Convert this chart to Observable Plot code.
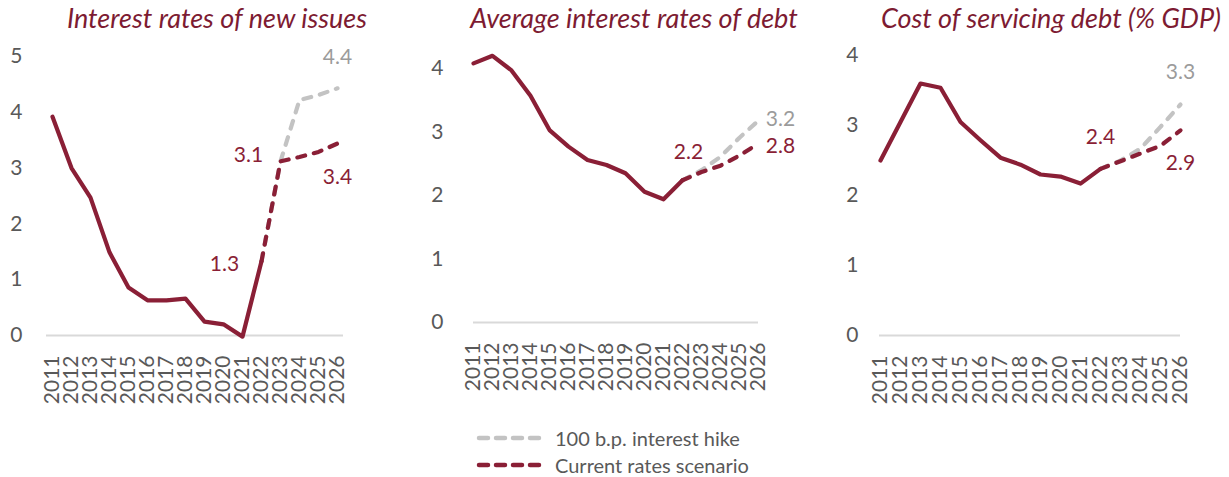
<!DOCTYPE html>
<html>
<head>
<meta charset="utf-8">
<script src="https://cdn.jsdelivr.net/npm/d3@7"></script>
<script src="https://cdn.jsdelivr.net/npm/@observablehq/plot@0.6"></script>
<style>
  body { margin: 0; background: #fff; }
  #wrap { position: relative; width: 1229px; height: 477px; overflow: hidden; font-family: Lato, "Open Sans", sans-serif; }
  .title { position: absolute; top: 1px; font-style: italic; font-size: 27px; color: #7D1B32; white-space: nowrap; transform: translateX(-50%); }
  .panel { position: absolute; top: 40px; }
  .leg { position: absolute; left: 476px; font-size: 20px; color: #595959; display: flex; align-items: center; white-space: nowrap; }
  .leg svg { margin-right: 7px; }
</style>
</head>
<body>
<div id="wrap"></div>
<script>
// ---- data ----
const years = [2011, 2012, 2013, 2014, 2015, 2016, 2017, 2018, 2019, 2020, 2021, 2022, 2023, 2024, 2025, 2026];
const histYears = [2011, 2012, 2013, 2014, 2015, 2016, 2017, 2018, 2019, 2020, 2021, 2022];
const projYears = [2022, 2023, 2024, 2025, 2026];

const titles = ["Interest rates of new issues", "Average interest rates of debt", "Cost of servicing debt (% GDP)"];
const seriesNames = ["100 b.p. interest hike", "Current rates scenario"];

const newIssuesHist = [3.92, 3.0, 2.47, 1.49, 0.86, 0.63, 0.63, 0.66, 0.25, 0.2, -0.02, 1.33];
const newIssuesCurrent = [1.33, 3.12, 3.2, 3.29, 3.44];
const newIssuesHike = [1.33, 3.12, 4.22, 4.31, 4.43];

const avgRateHist = [4.08, 4.2, 3.97, 3.57, 3.03, 2.77, 2.56, 2.48, 2.35, 2.06, 1.94, 2.24];
const avgRateCurrent = [2.24, 2.37, 2.47, 2.63, 2.82];
const avgRateHike = [2.24, 2.4, 2.61, 2.91, 3.18];

const debtServiceHist = [2.5, 3.05, 3.6, 3.54, 3.05, 2.79, 2.54, 2.44, 2.3, 2.27, 2.17, 2.38];
const debtServiceCurrent = [2.38, 2.49, 2.6, 2.71, 2.93];
const debtServiceHike = [2.38, 2.5, 2.67, 2.98, 3.3];

const yTicks1 = [0, 1, 2, 3, 4, 5];
const yTicks2 = [0, 1, 2, 3, 4];
const yTicks3 = [0, 1, 2, 3, 4];

// ---- styles ----
const RED = "#8A1F36";
const GREY = "#C3C3C3";
const GREY_TXT = "#9B9B9B";
const AXIS = "#595959";

const wrap = document.getElementById("wrap");

function toRows(xs, vs) { return xs.map((x, i) => ({ year: x, value: vs[i] })); }

function panel(cfg) {
  const hist = toRows(histYears, cfg.hist);
  const cur = toRows(projYears, cfg.cur);
  const hike = toRows(projYears, cfg.hike);
  const labels = cfg.labels.map(l => {
    const src = l.s === "hike" ? hike : l.s === "cur" ? cur : hist;
    const r = src.find(d => d.year === l.year);
    return { year: r.year, value: r.value, text: r.value.toFixed(1), dx: l.dx, dy: l.dy, fill: l.s === "hike" ? GREY_TXT : RED };
  });
  const dash = { strokeWidth: 4.2, strokeDasharray: "8,9", strokeLinecap: "round", strokeLinejoin: "round" };
  const svg = Plot.plot({
    width: cfg.width,
    height: 400,
    marginLeft: cfg.ml,
    marginRight: cfg.mr,
    marginTop: cfg.mt,
    marginBottom: cfg.mb,
    style: { fontFamily: "Lato, sans-serif", fontSize: "20px", color: AXIS, background: "transparent", overflow: "visible" },
    x: { type: "point", domain: years, padding: 0, label: null },
    y: { domain: cfg.ydomain, label: null },
    marks: [
      Plot.ruleY([0], { stroke: "#D9D9D9", strokeWidth: 2 }),
      Plot.axisY({ ticks: cfg.yticks, tickSize: 0, tickPadding: cfg.tp, label: null, tickFormat: d => String(d), fontSize: 21 }),
      Plot.axisX({ ticks: years, tickSize: 0, tickPadding: 20, tickRotate: -90, label: null, tickFormat: d => String(d), fontSize: 21 }),
      Plot.line(hike, { x: "year", y: "value", stroke: GREY, ...dash }),
      Plot.line(cur, { x: "year", y: "value", stroke: RED, ...dash }),
      Plot.line(hist, { x: "year", y: "value", stroke: RED, strokeWidth: 4.2, strokeLinejoin: "round", strokeLinecap: "round" }),
      ...labels.map(l => Plot.text([l], { x: "year", y: "value", text: "text", dx: l.dx, dy: l.dy, fill: l.fill, fontSize: 21, textAnchor: "middle" }))
    ]
  });
  svg.classList.add("panel");
  svg.style.left = cfg.left + "px";
  wrap.appendChild(svg);
  const t = document.createElement("div");
  t.className = "title";
  t.style.left = cfg.tx + "px";
  t.textContent = cfg.title;
  wrap.appendChild(t);
}

panel({ left: 0, width: 400, ml: 46, mr: 57, mt: 16, mb: 105, ydomain: [0, 5], yticks: yTicks1, tp: 24,
  hist: newIssuesHist, cur: newIssuesCurrent, hike: newIssuesHike, title: titles[0], tx: 217,
  labels: [
    { s: "hike", year: 2026, dx: 0, dy: -31 },
    { s: "cur", year: 2026, dx: 0, dy: 34 },
    { s: "cur", year: 2023, dx: -32, dy: -6 },
    { s: "hist", year: 2022, dx: -37, dy: 3 }
  ] });

panel({ left: 410, width: 400, ml: 63, mr: 52, mt: 28, mb: 118, ydomain: [0, 4], yticks: yTicks2, tp: 30,
  hist: avgRateHist, cur: avgRateCurrent, hike: avgRateHike, title: titles[1], tx: 634,
  labels: [
    { s: "hike", year: 2026, dx: 22, dy: -1 },
    { s: "cur", year: 2026, dx: 22, dy: 3 },
    { s: "hist", year: 2022, dx: 6, dy: -28 }
  ] });

panel({ left: 820, width: 409, ml: 59, mr: 49, mt: 15, mb: 105, ydomain: [0, 4], yticks: yTicks3, tp: 21,
  hist: debtServiceHist, cur: debtServiceCurrent, hike: debtServiceHike, title: titles[2], tx: 1051,
  labels: [
    { s: "hike", year: 2026, dx: 0, dy: -32 },
    { s: "cur", year: 2026, dx: 0, dy: 33 },
    { s: "hist", year: 2022, dx: 0, dy: -32 }
  ] });

// ---- legend ----
[[seriesNames[0], GREY, 426], [seriesNames[1], RED, 453]].forEach(([name, color, top]) => {
  const d = document.createElement("div");
  d.className = "leg";
  d.style.top = top + "px";
  d.innerHTML = `<svg width="72" height="24"><line x1="3" x2="69" y1="12" y2="12" stroke="${color}" stroke-width="4.5" stroke-dasharray="9,8" stroke-linecap="round"/></svg><span>${name}</span>`;
  wrap.appendChild(d);
});
</script>
</body>
</html>
